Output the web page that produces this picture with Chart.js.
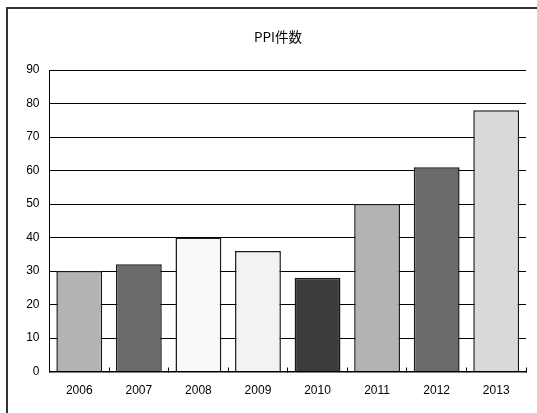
<!DOCTYPE html>
<html>
<head>
<meta charset="utf-8">
<script src="https://cdn.jsdelivr.net/npm/chart.js@4/dist/chart.umd.min.js"></script>
<style>
  html, body { margin: 0; padding: 0; background: #fff; overflow: hidden; }
  #wrap { position: relative; width: 537px; height: 413px; overflow: hidden; }
  #frame { position: absolute; left: 6px; top: 7px; width: 600px; height: 500px; border: 2px solid #333; }
  #c { position: absolute; left: 0; top: 0; }
</style>
</head>
<body>
<div id="wrap">
  <div id="frame"></div>
  <canvas id="c" width="537" height="413"></canvas>
</div>
<script>
// PPI件数 by year
const years = ['2006', '2007', '2008', '2009', '2010', '2011', '2012', '2013'];
const counts = [30, 32, 40, 36, 28, 50, 61, 78];
const barFills = ['#b3b3b3', '#6b6b6b', '#f9f9f9', '#f2f2f2', '#3d3d3d', '#b3b3b3', '#6b6b6b', '#d9d9d9'];
const titleText = 'PPI件数';

const tickFont = { family: '"Liberation Sans", Arial, sans-serif', size: 12 };

// Title is placed over the centre of the plot frame
const titlePlugin = {
  id: 'frameTitle',
  afterDraw(chart) {
    const ctx = chart.ctx;
    ctx.save();
    ctx.fillStyle = '#000';
    ctx.font = '13.5px "Noto Sans CJK JP", sans-serif';
    ctx.textAlign = 'center';
    ctx.textBaseline = 'middle';
    ctx.fillText(titleText, 278, 37);
    ctx.restore();
  }
};

new Chart(document.getElementById('c'), {
  type: 'bar',
  data: {
    labels: years,
    datasets: [{
      data: counts,
      backgroundColor: barFills,
      borderColor: '#1a1a1a',
      borderWidth: 1.5,
      barPercentage: 0.77,
      categoryPercentage: 1.0
    }]
  },
  options: {
    responsive: false,
    animation: false,
    events: [],
    layout: { padding: { left: 0, right: 11, top: 70, bottom: 0 } },
    plugins: {
      legend: { display: false },
      title: { display: false },
      tooltip: { enabled: false }
    },
    scales: {
      x: {
        offset: true,
        grid: {
          offset: true,
          display: true,
          drawOnChartArea: false,
          drawTicks: true,
          tickLength: -4,
          color: '#000',
          lineWidth: 1
        },
        border: { display: true, color: '#000', width: 1.5 },
        ticks: { color: '#000', font: tickFont, padding: 15.5, maxRotation: 0 },
        afterFit(scale) { scale.height = 41.5; }
      },
      y: {
        min: 0,
        max: 90,
        ticks: { stepSize: 10, color: '#000', font: tickFont, padding: 10 },
        grid: { color: '#000', lineWidth: 1, drawTicks: false },
        border: { display: true, color: '#000', width: 1 },
        afterFit(scale) { scale.width = 49.5; }
      }
    }
  },
  plugins: [titlePlugin]
});
</script>
</body>
</html>
